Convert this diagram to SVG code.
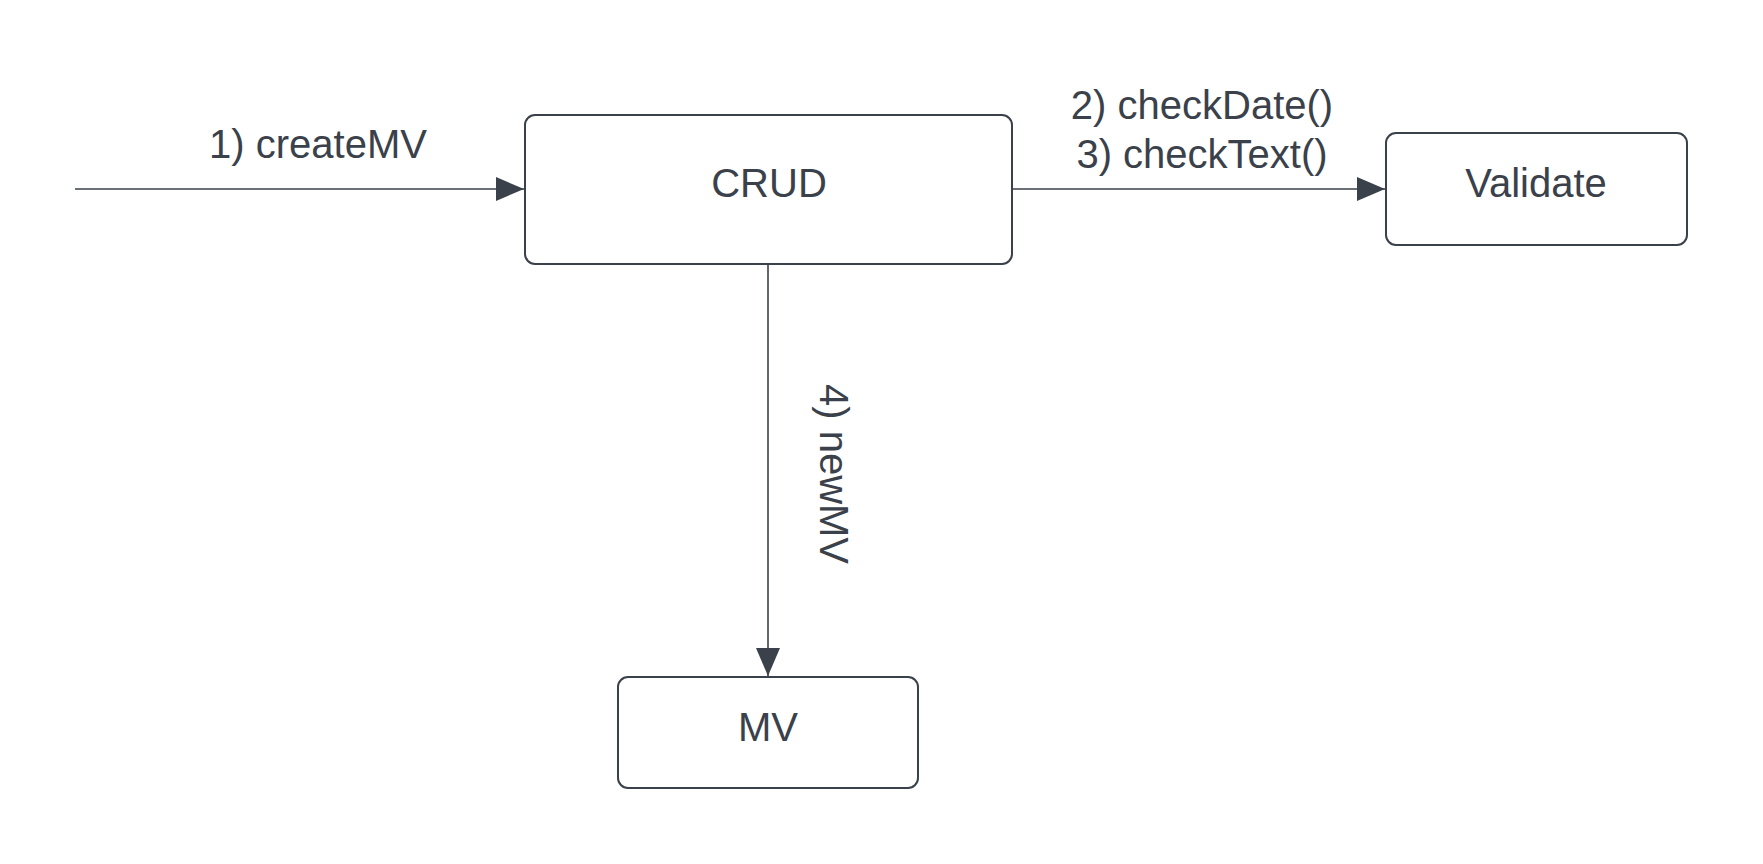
<svg xmlns="http://www.w3.org/2000/svg" width="1763" height="864" viewBox="0 0 1763 864">
<style>
.box{fill:#ffffff;stroke:#3a414a;stroke-width:2}
.lbl{font-family:"Liberation Sans",Arial,sans-serif;font-size:40px;fill:#3a414a;text-anchor:middle;dominant-baseline:central}
.conn{stroke:#3a414a;stroke-width:1.6;fill:none}
</style>
<defs>
<marker id="arr" markerUnits="userSpaceOnUse" markerWidth="30" markerHeight="24" refX="28" refY="12" orient="auto">
<path d="M0,0 L28,12 L0,24 Z" fill="#3a414a"/>
</marker>
</defs>
<rect width="1763" height="864" fill="#ffffff"/>
<g id="connectors">
<line class="conn" x1="75" y1="189" x2="524" y2="189" marker-end="url(#arr)"/>
<line class="conn" x1="1012" y1="189" x2="1385" y2="189" marker-end="url(#arr)"/>
<line class="conn" x1="768" y1="264" x2="768" y2="676" marker-end="url(#arr)"/>
<text class="lbl" x="318" y="144">1) createMV</text>
<text class="lbl" x="1202" y="105">2) checkDate()</text>
<text class="lbl" x="1202" y="154">3) checkText()</text>
<text class="lbl" x="0" y="0" transform="translate(834,474) rotate(90)">4) newMV</text>
</g>
<g id="crud">
<rect class="box" x="525" y="115" width="487" height="149" rx="10"/>
<text class="lbl" x="769" y="183">CRUD</text>
</g>
<g id="validate">
<rect class="box" x="1386" y="133" width="301" height="112" rx="10"/>
<text class="lbl" x="1536" y="183">Validate</text>
</g>
<g id="mv">
<rect class="box" x="618" y="677" width="300" height="111" rx="10"/>
<text class="lbl" x="768" y="727">MV</text>
</g>
</svg>
